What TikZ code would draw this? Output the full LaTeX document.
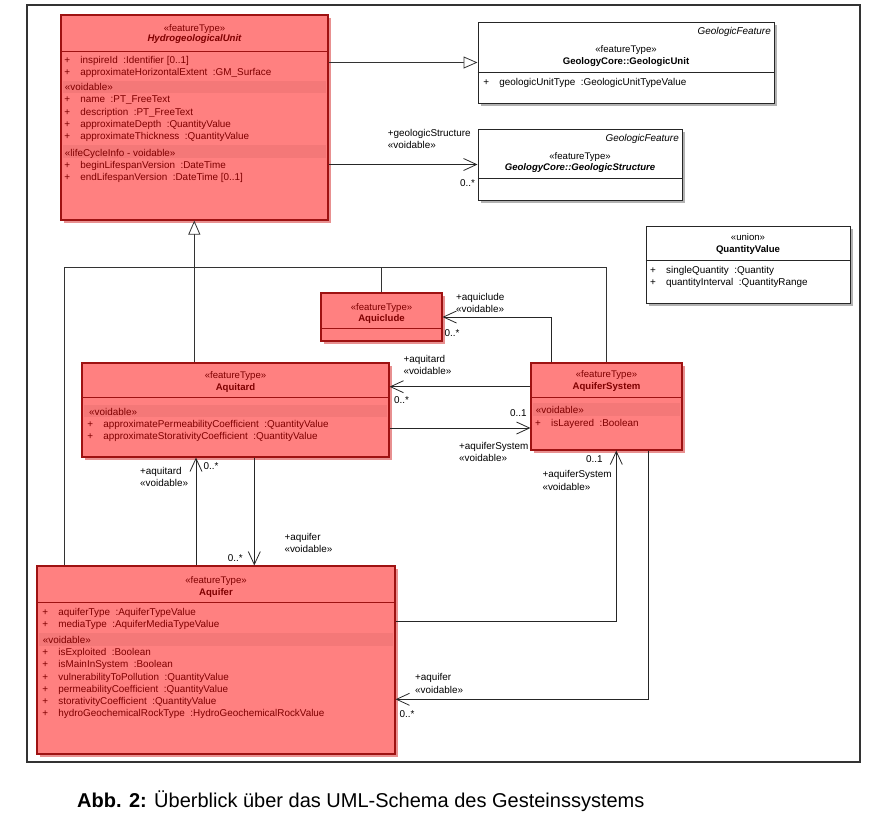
\documentclass[tikz,border=0pt]{standalone}
\usepackage{fontspec}
\setmainfont{Liberation Sans}
\usetikzlibrary{arrows.meta,shadows}
\definecolor{unitfill}{HTML}{FF8080}
\definecolor{unitdraw}{HTML}{9E1212}
\definecolor{unittext}{HTML}{7F0000}
\definecolor{unitband}{HTML}{F47878}
\definecolor{unitshade}{HTML}{E89090}
\newcommand{\umlsize}{\fontsize{9.9}{11}\selectfont}
\newcommand{\headsize}{\fontsize{9.6}{11}\selectfont}
\newcommand{\pl}{\makebox[16pt][l]{+}}
\tikzset{
  redclass/.style={draw=unitdraw, fill=unitfill, line width=1.1pt, inner sep=0pt,
    drop shadow={shadow xshift=3pt, shadow yshift=-3pt, fill=unitshade, opacity=1}},
  whiteclass/.style={draw=black!85, fill=white, line width=1pt, inner sep=0pt,
    drop shadow={shadow xshift=3pt, shadow yshift=-3pt, fill=black!30, opacity=1}},
  rowr/.style={anchor=base west, inner sep=0pt, text=unittext},
  rowb/.style={anchor=base west, inner sep=0pt, text=black},
  midr/.style={anchor=base, inner sep=0pt, text=unittext, font=\headsize},
  midb/.style={anchor=base, inner sep=0pt, text=black, font=\headsize},
  lbl/.style={anchor=base west, inner sep=0pt},
  sepr/.style={draw=unitdraw, line width=1pt},
  sepb/.style={draw=black!85, line width=1pt},
  genline/.style={draw=black!80, line width=0.8pt},
  gentip/.style={genline, -{Triangle[open, length=14pt, width=12pt, fill=white]}},
  assoc/.style={draw=black!85, line width=0.8pt, -{Straight Barb[length=13pt, width=12pt, line width=0.8pt]}}
}
\begin{document}
\begin{tikzpicture}[x=1pt, y=-1pt, font=\umlsize]
  \useasboundingbox (0,0) rectangle (869,817);
  \draw[line width=1.3pt, black!80] (27,5) rectangle (860,762);

  \node[redclass, minimum width=267pt, minimum height=205pt] (hu) at (194.5,117.5) {};
  \fill[unitband] (63,81) rectangle (326,93);
  \fill[unitband] (63,145) rectangle (326,158);
  \draw[sepr] (hu.west |- 0,51) -- (hu.east |- 0,51);
  \node[midr] (hu-st) at (194.5,31.4) {«featureType»};
  \node[midr, font=\headsize\bfseries\itshape] (hu-nm) at (194.5,41.9) {HydrogeologicalUnit};
  \node[rowr] (hu-a1) at (64.2,63.4) {\pl inspireId\ \ :Identifier [0..1]};
  \node[rowr] (hu-a2) at (64.2,75.6) {\pl approximateHorizontalExtent\ \ :GM\_Surface};
  \node[rowr] (hu-v1) at (64.7,90.4) {«voidable»};
  \node[rowr] (hu-a3) at (64.2,102.9) {\pl name\ \ :PT\_FreeText};
  \node[rowr] (hu-a4) at (64.2,115.1) {\pl description\ \ :PT\_FreeText};
  \node[rowr] (hu-a5) at (64.2,127.4) {\pl approximateDepth\ \ :QuantityValue};
  \node[rowr] (hu-a6) at (64.2,139.6) {\pl approximateThickness\ \ :QuantityValue};
  \node[rowr] (hu-v2) at (64.7,156.4) {«lifeCycleInfo - voidable»};
  \node[rowr] (hu-a7) at (64.2,168.4) {\pl beginLifespanVersion\ \ :DateTime};
  \node[rowr] (hu-a8) at (64.2,180.4) {\pl endLifespanVersion\ \ :DateTime [0..1]};

  \node[whiteclass, minimum width=296pt, minimum height=81pt] (gu) at (626,62.5) {};
  \draw[sepb] (gu.west |- 0,72) -- (gu.east |- 0,72);
  \node[anchor=base east, inner sep=0pt, font=\umlsize\itshape] (gu-gf) at (771,34.1) {GeologicFeature};
  \node[midb] (gu-st) at (626,52.4) {«featureType»};
  \node[midb, font=\headsize\bfseries] (gu-nm) at (626,64.1) {GeologyCore::GeologicUnit};
  \node[rowb] (gu-a1) at (483.2,85.1) {\pl geologicUnitType\ \ :GeologicUnitTypeValue};

  \node[whiteclass, minimum width=204pt, minimum height=71pt] (gs) at (580,164.5) {};
  \draw[sepb] (gs.west |- 0,178) -- (gs.east |- 0,178);
  \node[anchor=base east, inner sep=0pt, font=\umlsize\itshape] (gs-gf) at (679,141.1) {GeologicFeature};
  \node[midb] (gs-st) at (580,159.1) {«featureType»};
  \node[midb, font=\headsize\bfseries\itshape] (gs-nm) at (580,170.1) {GeologyCore::GeologicStructure};

  \node[whiteclass, minimum width=204pt, minimum height=77pt] (qv) at (748,264.5) {};
  \draw[sepb] (qv.west |- 0,260) -- (qv.east |- 0,260);
  \node[midb] (qv-st) at (748,240.7) {«union»};
  \node[midb, font=\headsize\bfseries] (qv-nm) at (748,252.4) {QuantityValue};
  \node[rowb] (qv-a1) at (650,273.4) {\pl singleQuantity\ \ :Quantity};
  \node[rowb] (qv-a2) at (650,285.4) {\pl quantityInterval\ \ :QuantityRange};

  \node[redclass, minimum width=121pt, minimum height=48pt] (aqc) at (381.5,317) {};
  \draw[sepr] (aqc.west |- 0,328.3) -- (aqc.east |- 0,328.3);
  \node[midr] (aqc-st) at (381.5,310) {«featureType»};
  \node[midr, font=\headsize\bfseries] (aqc-nm) at (381.5,321.7) {Aquiclude};

  \node[redclass, minimum width=307pt, minimum height=94pt] (atd) at (235.5,410) {};
  \fill[unitband] (84,405) rectangle (387,417);
  \draw[sepr] (atd.west |- 0,397.7) -- (atd.east |- 0,397.7);
  \node[midr] (atd-st) at (235.5,378.4) {«featureType»};
  \node[midr, font=\headsize\bfseries] (atd-nm) at (235.5,390.1) {Aquitard};
  \node[rowr] (atd-v1) at (89,415.1) {«voidable»};
  \node[rowr] (atd-a1) at (87.2,427.1) {\pl approximatePermeabilityCoefficient\ \ :QuantityValue};
  \node[rowr] (atd-a2) at (87.2,439.1) {\pl approximateStorativityCoefficient\ \ :QuantityValue};

  \node[redclass, minimum width=151pt, minimum height=87pt] (sys) at (606.5,406.5) {};
  \fill[unitband] (533,403) rectangle (680,416);
  \draw[sepr] (sys.west |- 0,397.3) -- (sys.east |- 0,397.3);
  \node[midr] (sys-st) at (606.5,377.7) {«featureType»};
  \node[midr, font=\headsize\bfseries] (sys-nm) at (606.5,389.4) {AquiferSystem};
  \node[rowr] (sys-v1) at (535.7,413.4) {«voidable»};
  \node[rowr] (sys-a1) at (535,426.1) {\pl isLayered\ \ :Boolean};

  \node[redclass, minimum width=358pt, minimum height=188pt] (aqf) at (216,660) {};
  \fill[unitband] (39,633.3) rectangle (393,645.7);
  \draw[sepr] (aqf.west |- 0,602.3) -- (aqf.east |- 0,602.3);
  \node[midr] (aqf-st) at (216,583.4) {«featureType»};
  \node[midr, font=\headsize\bfseries] (aqf-nm) at (216,595.4) {Aquifer};
  \node[rowr] (aqf-a1) at (42.2,615.4) {\pl aquiferType\ \ :AquiferTypeValue};
  \node[rowr] (aqf-a2) at (42.2,627.1) {\pl mediaType\ \ :AquiferMediaTypeValue};
  \node[rowr] (aqf-v1) at (42.7,643.4) {«voidable»};
  \node[rowr] (aqf-a3) at (42.2,655.7) {\pl isExploited\ \ :Boolean};
  \node[rowr] (aqf-a4) at (42.2,667.7) {\pl isMainInSystem\ \ :Boolean};
  \node[rowr] (aqf-a5) at (42.2,680.1) {\pl vulnerabilityToPollution\ \ :QuantityValue};
  \node[rowr] (aqf-a6) at (42.2,692.1) {\pl permeabilityCoefficient\ \ :QuantityValue};
  \node[rowr] (aqf-a7) at (42.2,704.1) {\pl storativityCoefficient\ \ :QuantityValue};
  \node[rowr] (aqf-a8) at (42.2,716.7) {\pl hydroGeochemicalRockType\ \ :HydroGeochemicalRockValue};

  \draw[gentip] (hu.east |- gu.west) -- (gu.west);
  \coordinate (gen) at (194.3,267.3);
  \draw[gentip] (gen |- atd.north) -- (gen |- hu.south);
  \draw[genline] (64,0 |- aqf.north) -- (64,0 |- gen) -- (606,0 |- gen) -- (606,0 |- sys.north);
  \draw[genline] (aqc.north) -- (aqc.north |- gen);

  \draw[assoc] (hu.east |- gs.west) -- (gs.west);
  \node[lbl] (l-gs1) at (387.7,136.7) {+geologicStructure};
  \node[lbl] (l-gs2) at (387.7,148.7) {«voidable»};
  \node[lbl] (l-gs3) at (460,186.1) {0..*};

  \draw[assoc] (551,0 |- sys.north) |- (aqc.east);
  \node[lbl] (l-ac1) at (456,300.1) {+aquiclude};
  \node[lbl] (l-ac2) at (456,312.7) {«voidable»};
  \node[lbl] (l-ac3) at (444.3,336.7) {0..*};

  \draw[assoc] (sys.west |- 0,386.7) -- (atd.east |- 0,386.7);
  \node[lbl] (l-at1) at (403.3,362.4) {+aquitard};
  \node[lbl] (l-at2) at (403.3,374.4) {«voidable»};
  \node[lbl] (l-at3) at (394,403.7) {0..*};

  \draw[assoc] (atd.east |- 0,428) -- (sys.west |- 0,428);
  \node[lbl] (l-as1) at (510,416.7) {0..1};
  \node[lbl] (l-as2) at (459,449.1) {+aquiferSystem};
  \node[lbl] (l-as3) at (459,461.7) {«voidable»};

  \draw[assoc] (196,0 |- aqf.north) -- (196,0 |- atd.south);
  \node[lbl] (l-ft1) at (140,474.7) {+aquitard};
  \node[lbl] (l-ft2) at (140,486.7) {«voidable»};
  \node[lbl] (l-ft3) at (203.3,469.1) {0..*};

  \draw[assoc] (254.3,0 |- atd.south) -- (254.3,0 |- aqf.north);
  \node[lbl] (l-tf1) at (284.3,540.1) {+aquifer};
  \node[lbl] (l-tf2) at (284.3,552.4) {«voidable»};
  \node[lbl] (l-tf3) at (227.7,561.7) {0..*};

  \draw[assoc] (aqf.east |- 0,621.7) -| (616.3,0 |- sys.south);
  \node[lbl] (l-fs1) at (586,462.7) {0..1};
  \node[lbl] (l-fs2) at (542.3,477.4) {+aquiferSystem};
  \node[lbl] (l-fs3) at (542.3,490.1) {«voidable»};

  \draw[assoc] (648.3,0 |- sys.south) |- (aqf.east |- 0,699.3);
  \node[lbl] (l-sf1) at (415,680.7) {+aquifer};
  \node[lbl] (l-sf2) at (415,693.1) {«voidable»};
  \node[lbl] (l-sf3) at (399.3,717.4) {0..*};

  \node[anchor=base west, inner sep=0pt, font=\fontsize{20}{24}\selectfont] (cap) at (77,807) {\textbf{Abb. 2:} Überblick über das UML-Schema des Gesteinssystems};
\end{tikzpicture}
\end{document}
